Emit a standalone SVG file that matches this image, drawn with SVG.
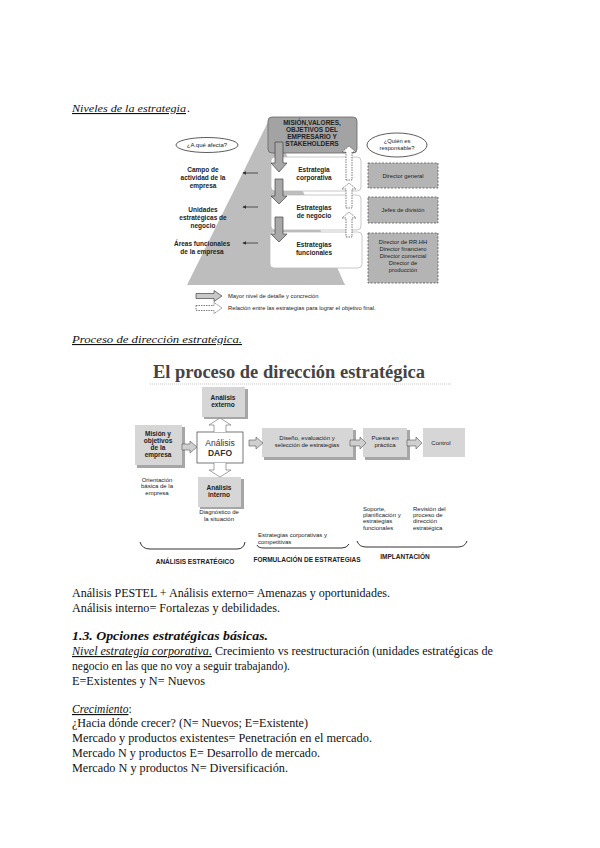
<svg xmlns="http://www.w3.org/2000/svg" width="600" height="848" viewBox="0 0 600 848">
<style>
.doc{font-family:"Liberation Serif",serif;font-size:11.5px;fill:#111}
.ttl{font-family:"Liberation Serif",serif;font-size:11px;font-style:italic;fill:#111;text-decoration:underline}
.sm{font-family:"Liberation Sans",Arial,sans-serif;font-size:6px;fill:#222}
.smb{font-family:"Liberation Sans",Arial,sans-serif;font-size:6.5px;font-weight:bold;fill:#222}
.gill{font-family:"Liberation Sans",Arial,sans-serif;font-size:5.8px;fill:#222}
.wbox{fill:#fff;stroke:#bbb;stroke-width:0.8}
.dbox{fill:#b4b4b4;stroke:#555;stroke-width:0.8;stroke-dasharray:2 1.5}
.darr{fill:#a8a8a8;stroke:#444;stroke-width:0.7}
.uarr{fill:#fff;stroke:#444;stroke-width:0.7;stroke-dasharray:1.5 1}
.line{stroke:#333;stroke-width:0.8;fill:none}
.gbox{fill:#d6d6d6}
.shadow{fill:#a6a6a6}
.garr{fill:#cfcfcf;stroke:#555;stroke-width:0.6}
.brace{fill:none;stroke:#333;stroke-width:1}
</style>
<defs>
<marker id="ah" viewBox="0 0 6 6" refX="5" refY="3" markerWidth="5" markerHeight="5" orient="auto">
<path d="M0,0 L6,3 L0,6 z" fill="#333"/>
</marker>
</defs>

<text class="ttl" x="72" y="112" textLength="114" lengthAdjust="spacingAndGlyphs">Niveles de la estrategia</text><text class="doc" x="187" y="112">.</text>

<g id="niveles">
<polygon id="pyramid" points="270,118 187,285 345,285" fill="#bdbdbd"/>
<g id="mision">
<rect x="268" y="117" width="89" height="36" rx="4" fill="#a3a3a3" stroke="#666" stroke-width="0.8"/>
<text class="smb" text-anchor="middle" x="312" y="125" font-size="6.8">MISIÓN,VALORES,</text>
<text class="smb" text-anchor="middle" x="312" y="132" font-size="6.8">OBJETIVOS DEL</text>
<text class="smb" text-anchor="middle" x="312" y="139" font-size="6.8">EMPRESARIO Y</text>
<text class="smb" text-anchor="middle" x="312" y="146" font-size="6.8">STAKEHOLDERS</text>
</g>
<g id="afecta">
<ellipse cx="207" cy="145" rx="31" ry="7.5" fill="#fff" stroke="#333" stroke-width="0.8"/>
<text class="sm" text-anchor="middle" x="207" y="147">¿A qué afecta?</text>
</g>
<g id="responsable">
<ellipse cx="397" cy="145" rx="30" ry="12" fill="#fff" stroke="#333" stroke-width="0.8"/>
<text class="gill" text-anchor="middle" x="397" y="143">¿Quién es</text>
<text class="gill" text-anchor="middle" x="397" y="150">responsable?</text>
</g>
<g id="corporativa">
<rect class="wbox" x="271" y="157" width="90" height="34" rx="4"/>
<text class="smb" text-anchor="middle" x="314" y="172">Estrategia</text>
<text class="smb" text-anchor="middle" x="314" y="180">corporativa</text>
</g>
<g id="negocio">
<rect class="wbox" x="271" y="195" width="90" height="35" rx="4"/>
<text class="smb" text-anchor="middle" x="314" y="210">Estrategias</text>
<text class="smb" text-anchor="middle" x="314" y="218">de negocio</text>
</g>
<g id="funcionales">
<rect class="wbox" x="270" y="232" width="92" height="36" rx="4"/>
<text class="smb" text-anchor="middle" x="314" y="247">Estrategias</text>
<text class="smb" text-anchor="middle" x="314" y="255">funcionales</text>
</g>
<g id="campo">
<text class="smb" text-anchor="middle" x="203" y="172">Campo de</text>
<text class="smb" text-anchor="middle" x="203" y="180">actividad de la</text>
<text class="smb" text-anchor="middle" x="203" y="188">empresa</text>
</g>
<g id="unidades">
<text class="smb" text-anchor="middle" x="203" y="212">Unidades</text>
<text class="smb" text-anchor="middle" x="203" y="220">estratégicas de</text>
<text class="smb" text-anchor="middle" x="203" y="228">negocio</text>
</g>
<g id="areas">
<text class="smb" text-anchor="middle" x="202" y="246">Áreas funcionales</text>
<text class="smb" text-anchor="middle" x="202" y="254">de la empresa</text>
</g>
<g id="dgeneral">
<rect class="dbox" x="368" y="163" width="70" height="25"/>
<text class="gill" text-anchor="middle" x="403" y="178">Director general</text>
</g>
<g id="jefes">
<rect class="dbox" x="368" y="197" width="70" height="26"/>
<text class="gill" text-anchor="middle" x="403" y="212">Jefes de división</text>
</g>
<g id="directores">
<rect class="dbox" x="368" y="233" width="70" height="50"/>
<text class="gill" text-anchor="middle" x="403" y="244">Director de RR.HH</text>
<text class="gill" text-anchor="middle" x="403" y="251">Director financiero</text>
<text class="gill" text-anchor="middle" x="403" y="258">Director comercial</text>
<text class="gill" text-anchor="middle" x="403" y="265">Director de</text>
<text class="gill" text-anchor="middle" x="403" y="272">producción</text>
</g>
<g id="connectors1">
<polygon class="darr" points="275,142 283,142 283,163 287,163 279,172 271,163 275,163"/>
<polygon class="darr" points="275,179 283,179 283,196 287,196 279,204 271,196 275,196"/>
<polygon class="darr" points="275,217 283,217 283,234 287,234 279,242 271,234 275,234"/>
<polygon class="uarr" points="346,180 352,180 352,152 356,152 349,146 342,152 346,152"/>
<polygon class="uarr" points="346,208 352,208 352,189 356,189 349,183 342,189 346,189"/>
<polygon class="uarr" points="346,237 352,237 352,218 356,218 349,212 342,218 346,218"/>
<line class="line" x1="258" y1="173" x2="243" y2="173" marker-end="url(#ah)"/>
<line class="line" x1="258" y1="207" x2="243" y2="207" marker-end="url(#ah)"/>
<line class="line" x1="258" y1="243" x2="243" y2="243" marker-end="url(#ah)"/>
</g>
<g id="legend">
<polygon points="196,293.5 214,293.5 214,290.5 222,296 214,301.5 214,298.5 196,298.5" fill="#c8c8c8" stroke="#444" stroke-width="0.7"/>
<text class="gill" x="228" y="298">Mayor nivel de detalle y concreción</text>
<polygon class="uarr" points="196,305.5 214,305.5 214,302.5 222,308 214,313.5 214,310.5 196,310.5"/>
<text class="gill" x="228" y="310">Relación entre las estrategias para lograr el objetivo final.</text>
</g>
</g>

<text class="ttl" x="72" y="343" textLength="170" lengthAdjust="spacingAndGlyphs">Proceso de dirección estratégica.</text>

<g id="proceso">
<text x="153" y="378" font-family="'Liberation Serif',serif" font-weight="bold" font-size="18" fill="#444" textLength="272" lengthAdjust="spacingAndGlyphs">El proceso de dirección estratégica</text>
<line x1="150" y1="384" x2="452" y2="384" stroke="#bbb" stroke-width="0.8" stroke-dasharray="1 1"/>
<g id="externo">
<rect class="shadow" x="204" y="389" width="44" height="30"/>
<rect class="gbox" x="202" y="387" width="43" height="30"/>
<text class="smb" text-anchor="middle" x="223" y="400" font-size="5.5">Análisis</text>
<text class="smb" text-anchor="middle" x="223" y="407" font-size="5.5">externo</text>
</g>
<g id="mision2">
<rect class="shadow" x="137" y="427" width="48" height="41"/>
<rect class="gbox" x="135" y="425" width="47" height="40"/>
<text class="smb" text-anchor="middle" x="158" y="436" font-size="6">Misión y</text>
<text class="smb" text-anchor="middle" x="158" y="443" font-size="6">objetivos</text>
<text class="smb" text-anchor="middle" x="158" y="450" font-size="6">de la</text>
<text class="smb" text-anchor="middle" x="158" y="457" font-size="6">empresa</text>
</g>
<g id="dafo">
<rect x="197" y="432" width="46" height="31" fill="#fff" stroke="#555" stroke-width="0.8"/>
<text x="220" y="446" text-anchor="middle" font-family="'Liberation Sans',Arial,sans-serif" font-size="8.5" fill="#333">Análisis</text>
<text x="220" y="456" text-anchor="middle" font-family="'Liberation Sans',Arial,sans-serif" font-size="8.5" font-weight="bold" fill="#333">DAFO</text>
</g>
<g id="interno">
<rect class="shadow" x="200" y="479" width="44" height="30"/>
<rect class="gbox" x="198" y="477" width="43" height="30"/>
<text class="smb" text-anchor="middle" x="219" y="490" font-size="5.5">Análisis</text>
<text class="smb" text-anchor="middle" x="219" y="497" font-size="5.5">interno</text>
</g>
<g id="diseno">
<rect class="shadow" x="264" y="430" width="92" height="30"/>
<rect class="gbox" x="262" y="428" width="91" height="29"/>
<text class="sm" text-anchor="middle" x="307" y="440">Diseño, evaluación y</text>
<text class="sm" text-anchor="middle" x="307" y="447">selección de estrategias</text>
</g>
<g id="puesta">
<rect class="shadow" x="365" y="430" width="45" height="30"/>
<rect class="gbox" x="363" y="428" width="44" height="29"/>
<text class="sm" text-anchor="middle" x="385" y="440">Puesta en</text>
<text class="sm" text-anchor="middle" x="385" y="447">práctica</text>
</g>
<g id="control">
<rect class="gbox" x="423" y="428" width="42" height="29"/>
<text class="sm" text-anchor="middle" x="441" y="445">Control</text>
</g>
<g id="connectors2">
<polygon class="garr" points="182,444 190,444 190,441 197,447 190,453 190,450 182,450"/>
<polygon class="garr" points="249,440 256,440 256,437 263,443 256,449 256,446 249,446"/>
<polygon class="garr" points="350,440 360,440 360,437 366,443 360,449 360,446 350,446"/>
<polygon class="garr" points="407,440 416,440 416,437 422,443 416,449 416,446 407,446"/>
<polyline points="214,432 214,425 209,425 220,418 231,425 226,425 226,432" fill="#fff" stroke="#666" stroke-width="0.6"/>
<polyline points="214,463 214,470 209,470 220,477 231,470 226,470 226,463" fill="#fff" stroke="#666" stroke-width="0.6"/>
</g>
<g id="notas">
<text class="sm" text-anchor="middle" x="157" y="482">Orientación</text>
<text class="sm" text-anchor="middle" x="157" y="488">básica de la</text>
<text class="sm" text-anchor="middle" x="157" y="495">empresa</text>
<text class="sm" text-anchor="middle" x="219" y="514">Diagnóstico de</text>
<text class="sm" text-anchor="middle" x="219" y="521">la situación</text>
<text class="sm" x="258" y="537">Estrategias corporativas y</text>
<text class="sm" x="258" y="544">competitivas</text>
<text class="sm" x="363" y="511">Soporte,</text>
<text class="sm" x="363" y="517">planificación y</text>
<text class="sm" x="363" y="523">estrategias</text>
<text class="sm" x="363" y="530">funcionales</text>
<text class="sm" x="413" y="511">Revisión del</text>
<text class="sm" x="413" y="517">proceso de</text>
<text class="sm" x="413" y="523">dirección</text>
<text class="sm" x="413" y="530">estratégica</text>
</g>
<path class="brace" d="M140,542 Q142,549 150,549 L237,549 Q244,549 245,542"/>
<path class="brace" d="M257,545 Q258,548 264,548 L342,548 Q347,548 349,544"/>
<path class="brace" d="M357,541 Q359,547 366,547 L458,547 Q465,547 467,541"/>
<text class="smb" text-anchor="middle" x="195" y="564" font-size="6">ANÁLISIS ESTRATÉGICO</text>
<text class="smb" text-anchor="middle" x="307" y="562" font-size="6">FORMULACIÓN DE ESTRATEGIAS</text>
<text class="smb" text-anchor="middle" x="405" y="559" font-size="6">IMPLANTACIÓN</text>
</g>

<g id="texto">
<text class="doc" x="72" y="597" textLength="318" lengthAdjust="spacingAndGlyphs">Análisis PESTEL + Análisis externo= Amenazas y oportunidades.</text>
<text class="doc" x="72" y="612" textLength="208" lengthAdjust="spacingAndGlyphs">Análisis interno= Fortalezas y debilidades.</text>
<text x="72" y="640" font-family="'Liberation Serif',serif" font-size="13" font-weight="bold" font-style="italic" fill="#111" textLength="196" lengthAdjust="spacingAndGlyphs">1.3. Opciones estratégicas básicas.</text>
<text class="doc" x="72" y="655" textLength="421" lengthAdjust="spacingAndGlyphs"><tspan font-style="italic" text-decoration="underline">Nivel estrategia corporativa.</tspan> Crecimiento vs reestructuración (unidades estratégicas de</text>
<text class="doc" x="72" y="670" textLength="218" lengthAdjust="spacingAndGlyphs">negocio en las que no voy a seguir trabajando).</text>
<text class="doc" x="72" y="685" textLength="133" lengthAdjust="spacingAndGlyphs">E=Existentes  y N= Nuevos</text>
<text class="doc" x="72" y="713"><tspan font-style="italic" text-decoration="underline">Crecimiento</tspan>:</text>
<text class="doc" x="72" y="727" textLength="236" lengthAdjust="spacingAndGlyphs">¿Hacia dónde crecer? (N= Nuevos; E=Existente)</text>
<text class="doc" x="72" y="742" textLength="300" lengthAdjust="spacingAndGlyphs">Mercado y productos existentes= Penetración en el mercado.</text>
<text class="doc" x="72" y="757" textLength="248" lengthAdjust="spacingAndGlyphs">Mercado N y productos E= Desarrollo de mercado.</text>
<text class="doc" x="72" y="772" textLength="216" lengthAdjust="spacingAndGlyphs">Mercado N y productos N= Diversificación.</text>
</g>
</svg>
